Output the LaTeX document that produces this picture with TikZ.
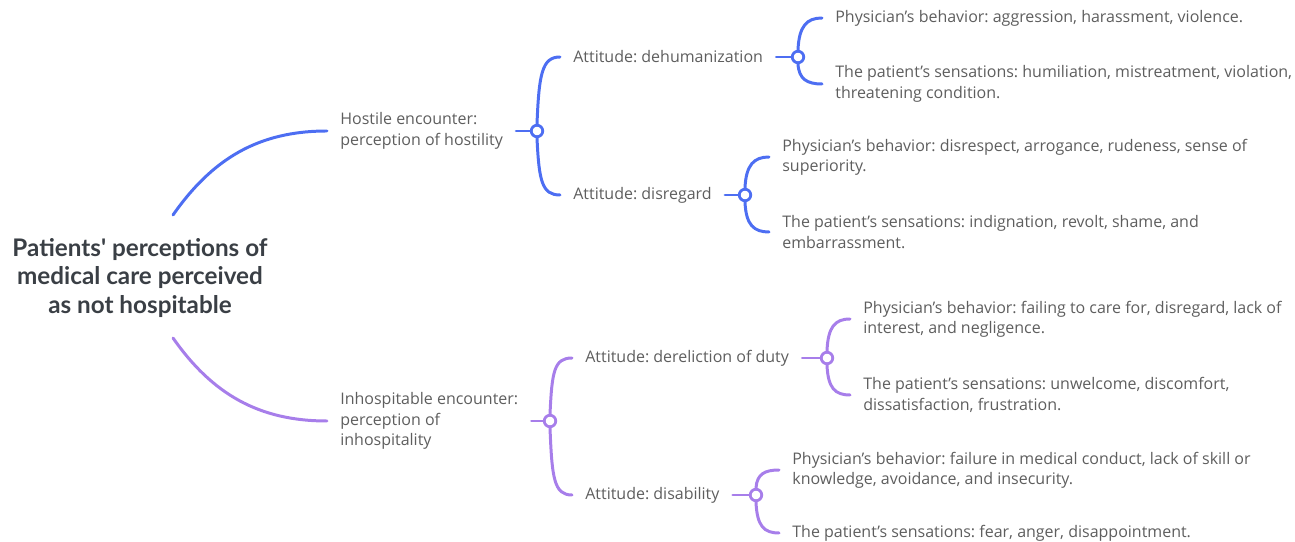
\documentclass[tikz,border=0pt]{standalone}
\usepackage{fontspec}
\setmainfont{Open Sans}
\newfontfamily\titlefont{Lato}
\definecolor{hostblue}{HTML}{4D6EF2}
\definecolor{inhpurple}{HTML}{A77EEA}
\definecolor{leaftext}{HTML}{5E5E5E}
\definecolor{roottext}{HTML}{3A3F45}
\frenchspacing
\tikzset{
  branch/.style={line width=1.7pt, line cap=round},
  knot/.style={circle, draw, fill=white, line width=1.6pt, minimum size=0.23cm, inner sep=0pt},
  topic/.style={anchor=west, inner xsep=0.26cm, inner ysep=0pt, align=left, text=leaftext,
    font=\fontsize{9.1}{11.6}\selectfont},
}
\begin{document}
\begin{tikzpicture}[x=0.02cm, y=0.02cm]
  \useasboundingbox (0,0) rectangle (1295,541);

  % root
  \node[align=center, text=roottext, font=\titlefont\bfseries\fontsize{13.8}{16.4}\selectfont] (root) at (140,263)
    {Patients' perceptions of\\medical care perceived\\as not hospitable};
  \coordinate (roottop) at (173,326);
  \coordinate (rootbot) at (173,203);

  % hostile branch
  \node[topic] (hostile) at (327,410) {Hostile encounter:\\perception of hostility};
  \node[knot, draw=hostblue] (hostc) at (537,410) {};
  \node[topic] (dehum) at (560,484) {Attitude: dehumanization};
  \node[knot, draw=hostblue] (dehumc) at (798,484) {};
  \node[topic] (disreg) at (560,346) {Attitude: disregard};
  \node[knot, draw=hostblue] (disregc) at (745,346) {};
  \node[topic] (hbeh) at (822,523) {Physician's behavior: aggression, harassment, violence.};
  \node[topic] (hsen) at (822,457) {The patient's sensations: humiliation, mistreatment, violation,\\threatening condition.};
  \node[topic] (rbeh) at (769,384) {Physician's behavior: disrespect, arrogance, rudeness, sense of\\superiority.};
  \node[topic] (rsen) at (769,309) {The patient's sensations: indignation, revolt, shame, and\\embarrassment.};

  \draw[branch, hostblue] (roottop) to[out=55, in=180] (hostile.west);
  \draw[branch, hostblue] (hostile.east) -- (hostc.west);
  \draw[branch, hostblue] (hostc.north) .. controls +(2,50) and +(-18,0) .. (dehum.west);
  \draw[branch, hostblue] (hostc.south) .. controls +(2,-43) and +(-18,0) .. (disreg.west);
  \draw[branch, hostblue] (dehum.east) -- (dehumc.west);
  \draw[branch, hostblue] (dehumc.north) .. controls +(1,24) and +(-15,0) .. (hbeh.west);
  \draw[branch, hostblue] (dehumc.south) .. controls +(1,-15) and +(-15,0) .. (hsen.west);
  \draw[branch, hostblue] (disreg.east) -- (disregc.west);
  \draw[branch, hostblue] (disregc.north) .. controls +(1,23) and +(-15,0) .. (rbeh.west);
  \draw[branch, hostblue] (disregc.south) .. controls +(1,-23) and +(-15,0) .. (rsen.west);

  % inhospitable branch
  \node[topic] (inhosp) at (327,120) {Inhospitable encounter:\\perception of\\inhospitality};
  \node[knot, draw=inhpurple] (inhc) at (550,120) {};
  \node[topic] (derel) at (572,183) {Attitude: dereliction of duty};
  \node[knot, draw=inhpurple] (derelc) at (827,183) {};
  \node[topic] (disab) at (572,46) {Attitude: disability};
  \node[knot, draw=inhpurple] (disabc) at (756,46) {};
  \node[topic] (dbeh) at (850,222) {Physician's behavior: failing to care for, disregard, lack of\\interest, and negligence.};
  \node[topic] (dsen) at (850,146) {The patient's sensations: unwelcome, discomfort,\\dissatisfaction, frustration.};
  \node[topic] (abeh) at (779,71) {Physician's behavior: failure in medical conduct, lack of skill or\\knowledge, avoidance, and insecurity.};
  \node[topic] (asen) at (779,8) {The patient's sensations: fear, anger, disappointment.};

  \draw[branch, inhpurple] (rootbot) to[out=-55, in=180] (inhosp.west);
  \draw[branch, inhpurple] (inhosp.east) -- (inhc.west);
  \draw[branch, inhpurple] (inhc.north) .. controls +(2,42) and +(-18,0) .. (derel.west);
  \draw[branch, inhpurple] (inhc.south) .. controls +(2,-50) and +(-18,0) .. (disab.west);
  \draw[branch, inhpurple] (derel.east) -- (derelc.west);
  \draw[branch, inhpurple] (derelc.north) .. controls +(1,24) and +(-15,0) .. (dbeh.west);
  \draw[branch, inhpurple] (derelc.south) .. controls +(1,-23) and +(-15,0) .. (dsen.west);
  \draw[branch, inhpurple] (disab.east) -- (disabc.west);
  \draw[branch, inhpurple] (disabc.north) .. controls +(1,14) and +(-14,0) .. (abeh.west);
  \draw[branch, inhpurple] (disabc.south) .. controls +(1,-24) and +(-15,0) .. (asen.west);
\end{tikzpicture}
\end{document}
